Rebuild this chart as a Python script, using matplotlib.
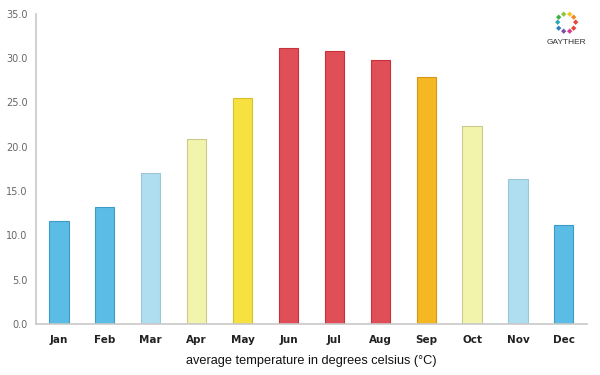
import numpy as np
import matplotlib.pyplot as plt

months = ["Jan", "Feb", "Mar", "Apr", "May", "Jun",
          "Jul", "Aug", "Sep", "Oct", "Nov", "Dec"]
temps = [11.6, 13.2, 17.0, 20.9, 25.5, 31.2, 30.8, 29.8, 27.9, 22.4, 16.4, 11.2]

fills = ["#5bbde6", "#5bbde6", "#afdef0", "#f3f4ab", "#f7e140", "#e04f57",
         "#e04f57", "#e04f57", "#f5b823", "#f3f4ab", "#afdef0", "#5bbde6"]
edges = ["#3e9cc4", "#3e9cc4", "#9cc6d6", "#c9c98e", "#d8bf30", "#c8303a",
         "#c8303a", "#c8303a", "#d4951a", "#c9c98e", "#9cc6d6", "#3e9cc4"]

fig = plt.figure(figsize=(6, 3.75), dpi=100)
ax = fig.add_axes([0.06, 0.136, 0.918, 0.827])

x = np.arange(len(months))
ax.bar(x, temps, width=0.42, color=fills, edgecolor=edges, linewidth=0.8)

ax.set_xlim(-0.5, 11.5)
ax.set_ylim(0, 35)
ax.set_yticks(np.arange(0, 35.1, 5))
ax.set_yticklabels([f"{v:.1f}" for v in np.arange(0, 35.1, 5)])
ax.set_xticks(x)
ax.set_xticklabels(months, fontweight="bold")

for s in ["top", "right"]:
    ax.spines[s].set_visible(False)
for s in ["left", "bottom"]:
    ax.spines[s].set_color("#c8c8c8")
    ax.spines[s].set_linewidth(1.2)

ax.tick_params(axis="y", length=0, labelsize=7, labelcolor="#666666", pad=6)
ax.tick_params(axis="x", length=0, labelsize=7.5, labelcolor="#222222", pad=8)

ax.set_xlabel("average temperature in degrees celsius (°C)", fontsize=9.2,
              family="Liberation Sans", color="#111111", labelpad=7)

# logo
ring_colors = ["#e8443a", "#f08a24", "#f5c52a", "#8cc63f", "#3fae49",
               "#27a9b4", "#2e7fc0", "#7a4fa0", "#d33b8f", "#e8443a"]
cx, cy, r = 0.944, 0.94, 0.024
for i, c in enumerate(ring_colors):
    a = 2 * np.pi * i / len(ring_colors)
    fig.text(cx + r * np.cos(a) * 0.625, cy + r * np.sin(a), "\u25c6",
             color=c, fontsize=5, ha="center", va="center")
fig.text(cx, 0.888, "GAYTHER", fontsize=6, family="Liberation Sans",
         ha="center", va="center", color="#333333")

fig.savefig("out.png", dpi=100)
